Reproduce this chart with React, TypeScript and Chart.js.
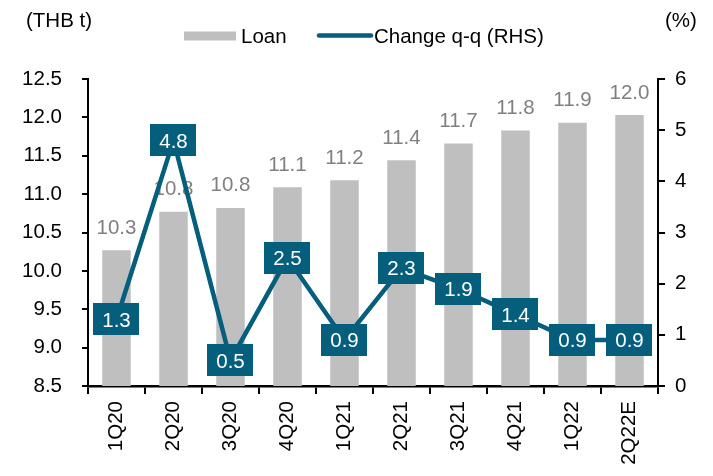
import React, { useEffect, useRef } from 'react';
import { Chart, registerables } from 'chart.js';

Chart.register(...registerables);

const categories = ['1Q20', '2Q20', '3Q20', '4Q20', '1Q21', '2Q21', '3Q21', '4Q21', '1Q22', '2Q22E'];
const loanValues = [10.27, 10.77, 10.82, 11.09, 11.18, 11.44, 11.66, 11.83, 11.93, 12.03];
const changeValues = [1.3, 4.8, 0.5, 2.5, 0.9, 2.3, 1.9, 1.4, 0.9, 0.9];
const leftTickValues = [8.5, 9.0, 9.5, 10.0, 10.5, 11.0, 11.5, 12.0, 12.5];
const rightTickValues = [0, 1, 2, 3, 4, 5, 6];

const FONT = '"Liberation Sans", Arial, Helvetica, sans-serif';
const FS = 20.5;
const BAR_COLOR = '#BFBFBF';
const LINE_COLOR = '#045E7C';
const LABEL_GRAY = '#808080';

const overlay = {
  id: 'overlay',
  afterDatasetDraw(chart: any, args: any) {
    if (args.index !== 0) return;
    const ctx = chart.ctx;
    const meta = chart.getDatasetMeta(0);
    ctx.save();
    ctx.font = `${FS}px ${FONT}`;
    ctx.fillStyle = LABEL_GRAY;
    ctx.textAlign = 'center';
    ctx.textBaseline = 'alphabetic';
    meta.data.forEach((el: any, i: number) => {
      ctx.fillText(loanValues[i].toFixed(1), el.x, el.y - 16.5);
    });
    ctx.restore();
  },
  afterDatasetsDraw(chart: any) {
    const ctx = chart.ctx;
    const meta = chart.getDatasetMeta(1);
    ctx.save();
    ctx.font = `${FS}px ${FONT}`;
    ctx.textAlign = 'center';
    ctx.textBaseline = 'middle';
    meta.data.forEach((el: any, i: number) => {
      const txt = changeValues[i].toFixed(1);
      const w = ctx.measureText(txt).width + 18;
      const h = 32;
      ctx.fillStyle = LINE_COLOR;
      ctx.fillRect(Math.round(el.x - w / 2), Math.round(el.y - h / 2), Math.round(w), h);
      ctx.fillStyle = '#FFFFFF';
      ctx.fillText(txt, el.x, el.y + 1.5);
    });
    ctx.restore();
  },
  afterDraw(chart: any) {
    const ctx = chart.ctx;
    ctx.save();
    ctx.font = `${FS}px ${FONT}`;
    ctx.fillStyle = '#000000';
    ctx.textBaseline = 'alphabetic';
    ctx.textAlign = 'left';
    ctx.fillText('(THB t)', 26, 27);
    ctx.fillText('(%)', 665, 27);
    // legend
    ctx.fillStyle = BAR_COLOR;
    ctx.fillRect(184, 31.5, 52, 9);
    ctx.fillStyle = '#000000';
    ctx.fillText('Loan', 241, 43);
    ctx.strokeStyle = LINE_COLOR;
    ctx.lineWidth = 4.5;
    ctx.lineCap = 'round';
    ctx.beginPath();
    ctx.moveTo(319, 35.5);
    ctx.lineTo(371, 35.5);
    ctx.stroke();
    ctx.fillText('Change q-q (RHS)', 374, 43);
    ctx.restore();
  },
};

export default function App() {
  const ref = useRef<HTMLCanvasElement | null>(null);

  useEffect(() => {
    if (!ref.current) return;
    const chart = new Chart(ref.current, {
      type: 'bar',
      data: {
        labels: categories,
        datasets: [
          {
            type: 'bar',
            label: 'Loan',
            data: loanValues,
            backgroundColor: BAR_COLOR,
            barPercentage: 0.5,
            categoryPercentage: 1,
            yAxisID: 'y',
            order: 2,
          },
          {
            type: 'line',
            label: 'Change q-q (RHS)',
            data: changeValues,
            borderColor: LINE_COLOR,
            backgroundColor: LINE_COLOR,
            borderWidth: 4.5,
            pointRadius: 0,
            tension: 0,
            yAxisID: 'y1',
            order: 1,
            clip: false as any,
          } as any,
        ],
      },
      options: {
        responsive: false,
        animation: false,
        layout: { padding: { top: 79, left: 0, right: 0, bottom: 0 } },
        plugins: {
          legend: { display: false },
          tooltip: { enabled: false },
        },
        scales: {
          x: {
            offset: true,
            grid: {
              offset: true,
              drawOnChartArea: false,
              drawTicks: true,
              tickLength: 8,
              color: '#000000',
              lineWidth: 2,
            },
            border: { display: true, color: '#000000', width: 2.5 },
            ticks: {
              autoSkip: false,
              maxRotation: 90,
              minRotation: 90,
              padding: 7,
              color: '#000000',
              font: { family: FONT, size: FS },
            },
            afterFit: (s: any) => {
              s.height = 90;
            },
          },
          y: {
            position: 'left',
            min: 8.5,
            max: 12.5,
            afterBuildTicks: (s: any) => {
              s.ticks = leftTickValues.map((v) => ({ value: v }));
            },
            grid: {
              drawOnChartArea: false,
              drawTicks: true,
              tickLength: 6,
              color: '#000000',
              lineWidth: 2,
            },
            border: { display: true, color: '#000000', width: 2 },
            ticks: {
              padding: 20,
              color: '#000000',
              font: { family: FONT, size: FS },
              callback: (v: any) => Number(v).toFixed(1),
            },
            afterFit: (s: any) => {
              s.width = 88;
            },
          },
          y1: {
            position: 'right',
            min: 0,
            max: 6,
            afterBuildTicks: (s: any) => {
              s.ticks = rightTickValues.map((v) => ({ value: v }));
            },
            grid: {
              drawOnChartArea: false,
              drawTicks: true,
              tickLength: 7,
              color: '#000000',
              lineWidth: 2,
            },
            border: { display: true, color: '#000000', width: 2 },
            ticks: {
              padding: 10,
              color: '#000000',
              font: { family: FONT, size: FS },
              callback: (v: any) => String(v),
            },
            afterFit: (s: any) => {
              s.width = 55;
            },
          },
        },
      } as any,
      plugins: [overlay],
    });
    return () => chart.destroy();
  }, []);

  return (
    <div style={{ position: 'absolute', left: 0, top: 0, width: 713, height: 476, background: '#FFFFFF' }}>
      <canvas ref={ref} width={713} height={476} style={{ display: 'block', width: 713, height: 476 }} />
    </div>
  );
}
